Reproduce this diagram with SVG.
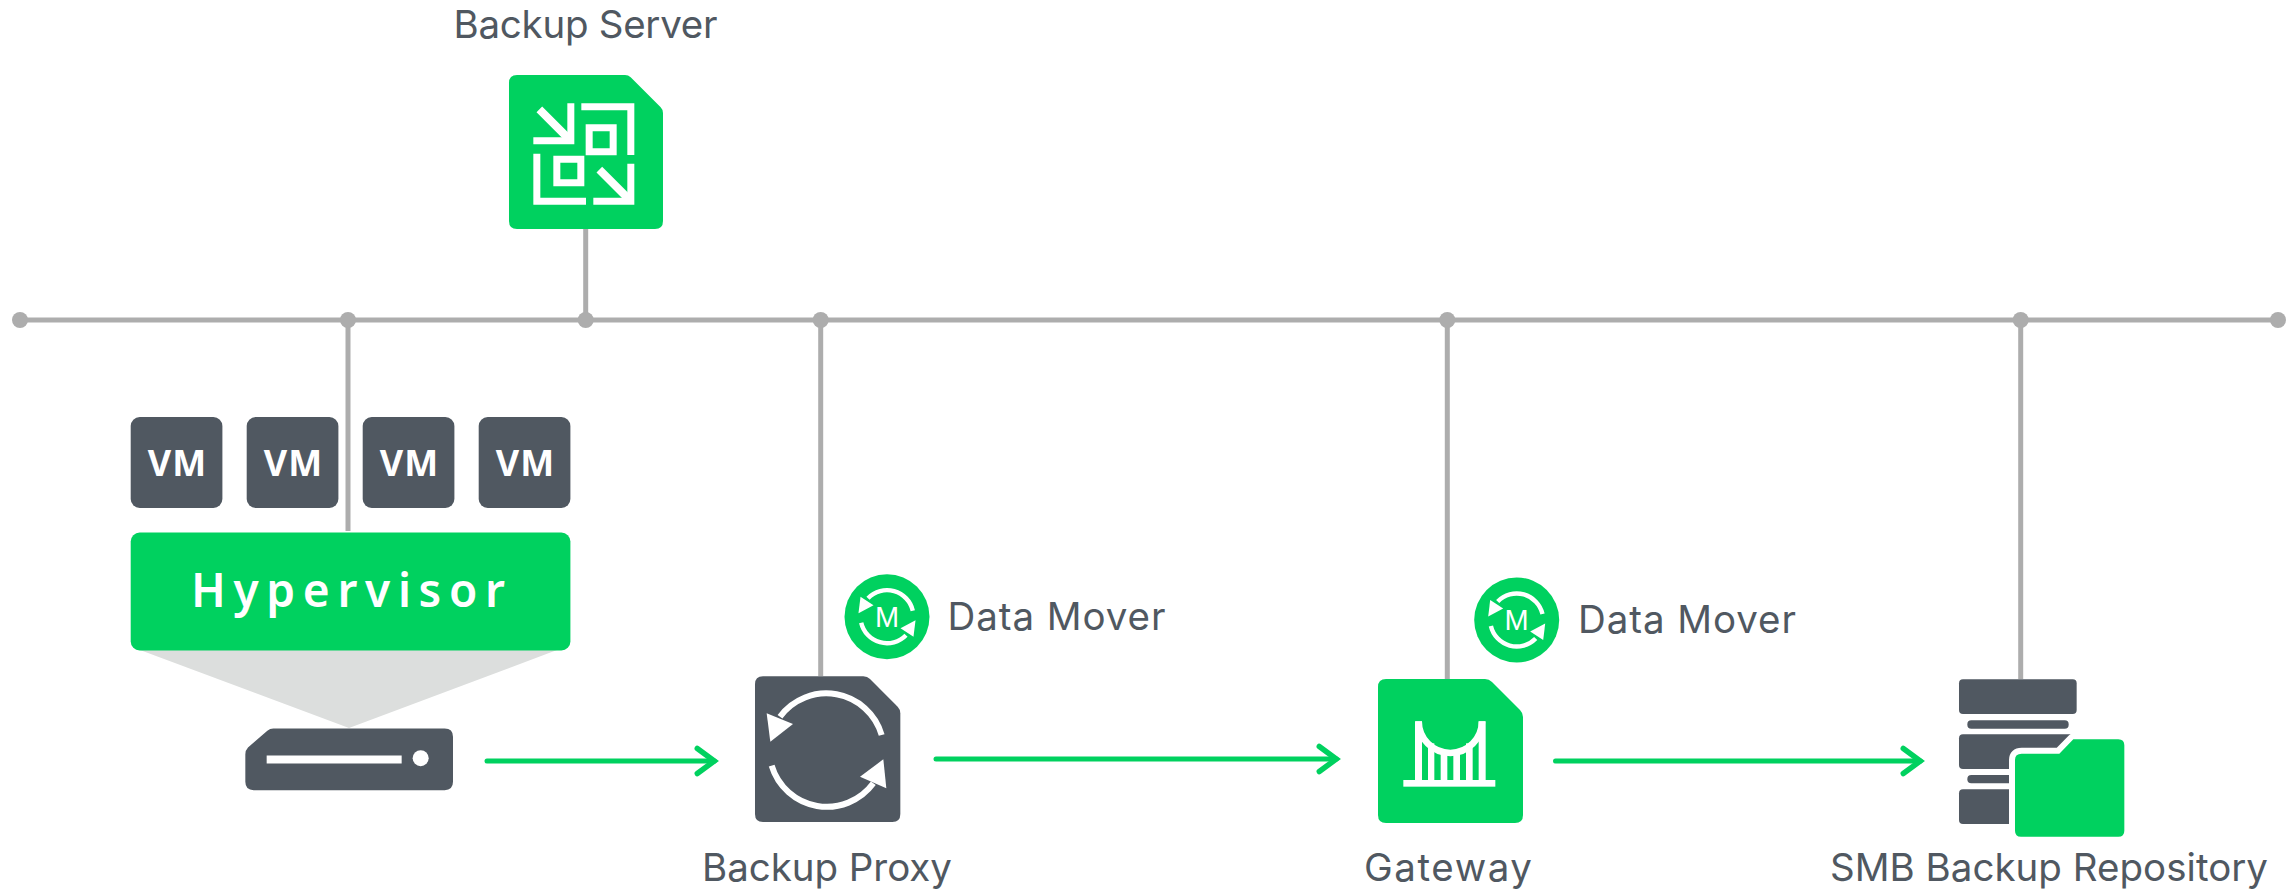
<svg xmlns="http://www.w3.org/2000/svg" xmlns:xlink="http://www.w3.org/1999/xlink" width="2293" height="891" viewBox="0 0 2293 891">
<style>
.label{font-family:"Inter","Liberation Sans",sans-serif;font-size:38.5px;fill:#505861}
.vm{font-family:"Noto Sans","Liberation Sans",sans-serif;font-size:36px;font-weight:700;fill:#fff;text-anchor:middle;letter-spacing:1px}
.hv{font-family:"Noto Sans","Liberation Sans",sans-serif;font-size:46px;font-weight:600;fill:#fff}
.m{font-family:"Liberation Sans",sans-serif;font-size:29px;fill:#fff;text-anchor:middle}
.net{stroke:#adadad;stroke-width:5;fill:none}
.dot{fill:#adadad}
.flow{stroke:#00d15f;stroke-width:5;stroke-linecap:round;fill:none;marker-end:url(#chev)}
.g{fill:#00d15f}
.d{fill:#505861}
.w{fill:#fff}
.ws{stroke:#fff;fill:none}
</style>
<defs>
<marker id="chev" markerUnits="userSpaceOnUse" viewBox="-24 -18 32 36" refX="0" refY="0" markerWidth="32" markerHeight="36" orient="auto" overflow="visible">
<path d="M-17,-12.5 L0,0 L-17,12.5" fill="none" stroke="#00d15f" stroke-width="5.5" stroke-linecap="round" stroke-linejoin="miter"/>
</marker>
<g id="moverIcon">
<circle r="42.5" class="g"/>
<path d="M25.8,-6A26.5,26.5 0 0 0 -19,-18.5" class="ws" stroke-width="4.4"/>
<path d="M-25.8,6A26.5,26.5 0 0 0 19,18.5" class="ws" stroke-width="4.4"/>
<polygon points="-28.5,-3.5 -26.5,-20 -13.5,-11.5" class="w"/>
<polygon points="28.5,3.5 26.5,20 13.5,11.5" class="w"/>
<text y="10.3" class="m">M</text>
</g>
</defs>
<rect width="2293" height="891" fill="#fff"/>
<g id="connectors">
<path class="net" d="M20,320H2278"/>
<path class="net" d="M348,320V531M585.7,229V320M820.7,320V676M1447.3,320V679M2020.7,320V679"/>
<circle class="dot" cx="20" cy="320" r="8"/><circle class="dot" cx="348" cy="320" r="8"/><circle class="dot" cx="585.7" cy="320" r="8"/><circle class="dot" cx="820.7" cy="320" r="8"/><circle class="dot" cx="1447.3" cy="320" r="8"/><circle class="dot" cx="2020.7" cy="320" r="8"/><circle class="dot" cx="2278" cy="320" r="8"/>
<path class="flow" d="M487,761H714.3"/>
<path class="flow" d="M936,759H1336.3"/>
<path class="flow" d="M1555.5,761H1920.3"/>
</g>
<g id="backup-server">
<text class="label" x="453.5" y="38" textLength="264" lengthAdjust="spacing">Backup Server</text>
<g transform="translate(440 0) scale(.33333)">
<path class="g" d="M231,225H555Q565,225 572,232L662,322Q669,329 669,339V663Q669,687 645,687H231Q207,687 207,663V249Q207,225 231,225Z"/>
<path class="w" d="M382,310H403V433H280V412H382ZM424,310H583V465H562V331H424ZM437,373H530V466H437ZM458,394V445H509V394ZM280,461H301V593H438V614H280ZM340,467H433V559H340ZM361,488V538H412V488ZM562,491H583V614H460V593H562Z" fill-rule="evenodd"/>
<path class="ws" stroke-width="24" d="M298,328L385,415M478,509L565,596"/>
</g>
</g>
<g id="vm-1"><rect class="d" x="130.7" y="417" width="91.7" height="91" rx="9"/><text class="vm" x="177.5" y="476">VM</text></g>
<g id="vm-2"><rect class="d" x="246.7" y="417" width="91.7" height="91" rx="9"/><text class="vm" x="293.5" y="476">VM</text></g>
<g id="vm-3"><rect class="d" x="362.7" y="417" width="91.7" height="91" rx="9"/><text class="vm" x="409.5" y="476">VM</text></g>
<g id="vm-4"><rect class="d" x="478.7" y="417" width="91.7" height="91" rx="9"/><text class="vm" x="525.5" y="476">VM</text></g>
<g id="hypervisor">
<polygon points="140,650 557,650 349,728" fill="#dcdedd"/>
<rect class="g" x="130.7" y="532.5" width="439.7" height="118" rx="9"/>
<text class="hv" x="191" y="606.5" textLength="314" lengthAdjust="spacing">Hypervisor</text>
</g>
<g id="host">
<g transform="translate(110 399.5) scale(.33333)">
<path class="d" d="M490,987H1004Q1029,987 1029,1012V1147Q1029,1172 1004,1172H431Q406,1172 406,1147V1065Q406,1052 414,1044L472,994Q480,987 490,987Z"/>
<rect class="w" x="470" y="1068" width="405" height="24"/>
<circle class="w" cx="932" cy="1076" r="24"/>
</g>
</g>
<g id="backup-proxy">
<g transform="translate(730 560) scale(.33333)">
<path class="d" d="M99,349H400Q412,349 420,357L503,440Q511,448 511,460V762Q511,786 487,786H99Q75,786 75,762V373Q75,349 99,349Z"/>
<path class="ws" stroke-width="18" d="M455,525A173,173 0 0 0 150,470M125,617A173,173 0 0 0 430,670"/>
<polygon class="w" points="110,460 189,492 121,545"/>
<polygon class="w" points="460,598 390,650 469,685"/>
</g>
<text class="label" x="702" y="881" textLength="250" lengthAdjust="spacing">Backup Proxy</text>
</g>
<g id="data-mover-1">
<use href="#moverIcon" xlink:href="#moverIcon" x="887" y="616.7"/>
<text class="label" x="947.5" y="630" textLength="218" lengthAdjust="spacing">Data Mover</text>
</g>
<g id="gateway">
<path class="g" d="M1386,679H1485Q1489,679 1492,682L1520,710Q1523,713 1523,717V815Q1523,823 1515,823H1386Q1378,823 1378,815V687Q1378,679 1386,679Z"/>
<g transform="translate(1390 700) scale(.33333)">
<rect class="w" x="40" y="240" width="276" height="20"/>
<rect class="w" x="75" y="64" width="21" height="180"/>
<rect class="w" x="266" y="64" width="21" height="180"/>
<rect class="w" x="114" y="130" width="19" height="114"/>
<rect class="w" x="152" y="150" width="20" height="94"/>
<rect class="w" x="190" y="150" width="20" height="94"/>
<rect class="w" x="228" y="130" width="20" height="114"/>
<path class="ws" stroke-width="20" d="M86,64A95,95 0 0 0 276,64"/>
</g>
<text class="label" x="1364" y="881" textLength="168" lengthAdjust="spacing">Gateway</text>
</g>
<g id="data-mover-2">
<use href="#moverIcon" xlink:href="#moverIcon" x="1516.7" y="620"/>
<text class="label" x="1578" y="633" textLength="218" lengthAdjust="spacing">Data Mover</text>
</g>
<g id="smb-repository">
<g transform="translate(1900 640) scale(.33333)">
<rect class="d" x="177" y="118" width="353" height="104" rx="12"/>
<rect class="d" x="202" y="241" width="304" height="25" rx="12"/>
<rect class="d" x="177" y="283" width="353" height="104" rx="12"/>
<rect class="d" x="202" y="405" width="304" height="25" rx="12"/>
<rect class="d" x="177" y="448" width="353" height="104" rx="12"/>
<path class="g" d="M345,360Q345,341 365,341H478L520,298H655Q673,298 673,316V572Q673,590 655,590H363Q345,590 345,572Z" stroke="#fff" stroke-width="36" paint-order="stroke" stroke-linejoin="round"/>
</g>
<text class="label" x="1830" y="881" textLength="438" lengthAdjust="spacing">SMB Backup Repository</text>
</g>
</svg>
